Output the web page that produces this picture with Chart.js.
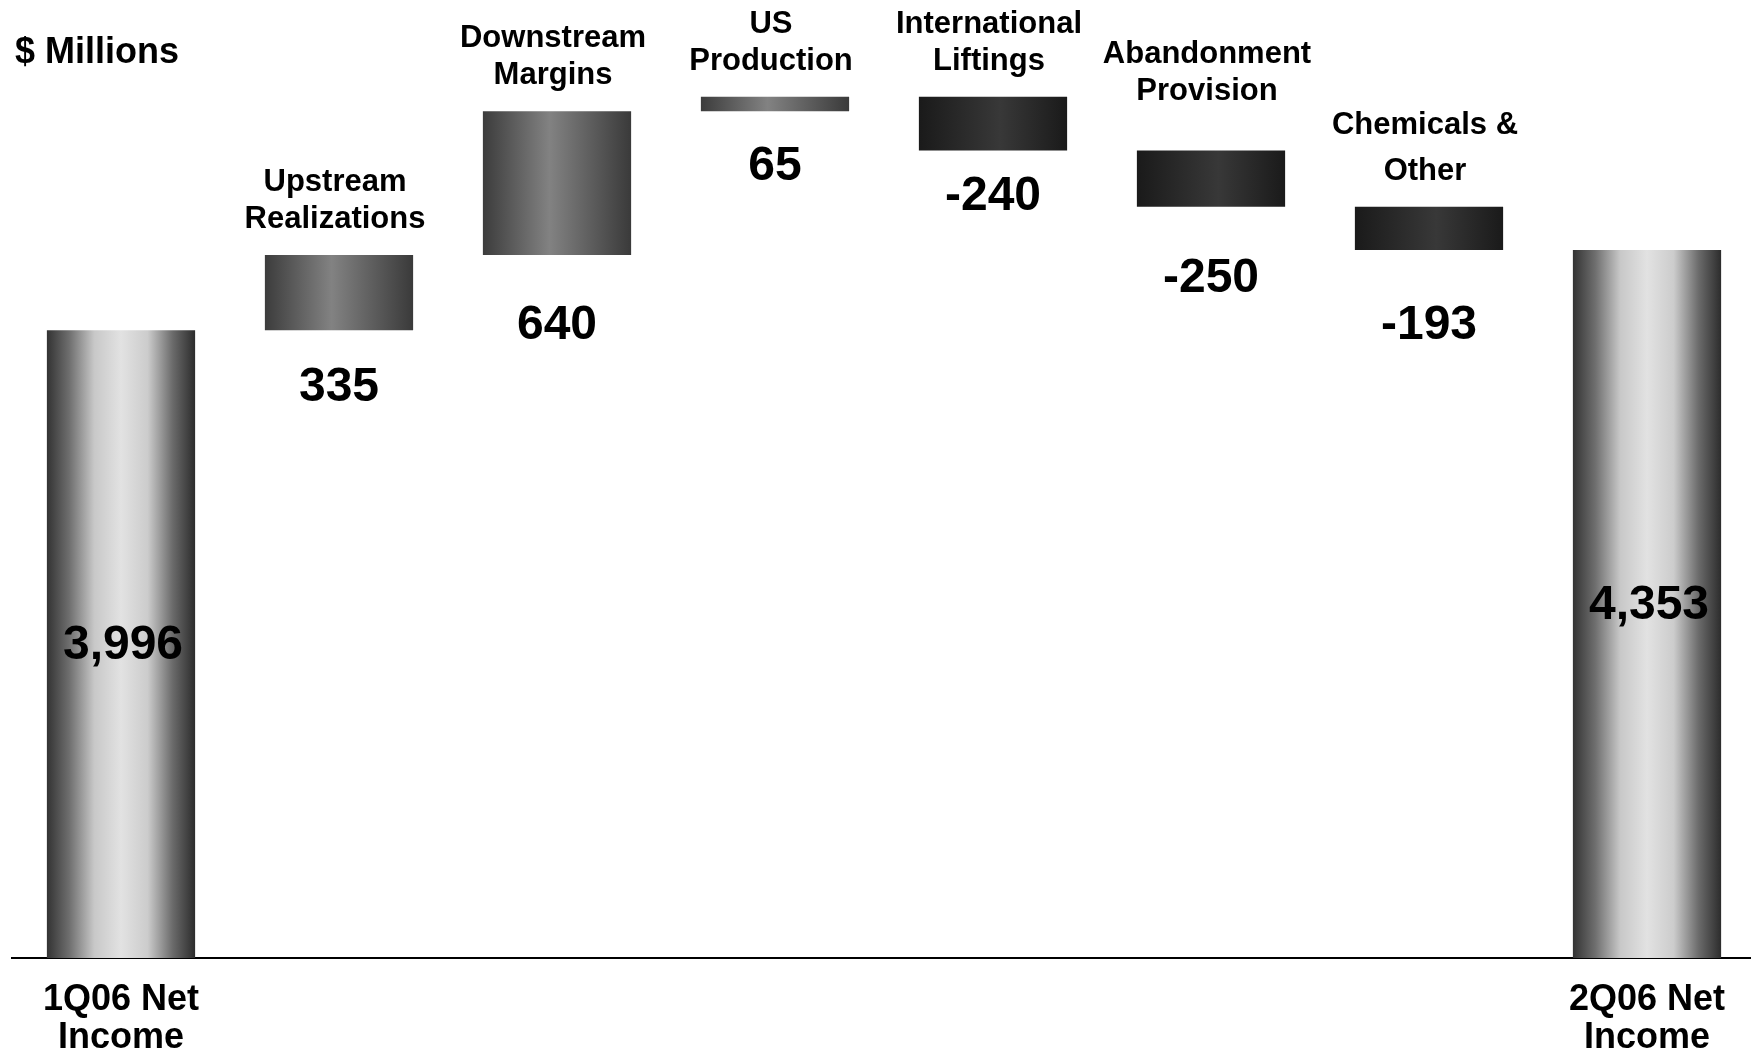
<!DOCTYPE html>
<html>

<head>
    <meta charset="UTF-8">
    <title>Net Income Bridge</title>
    <script src="https://cdn.jsdelivr.net/npm/chart.js"></script>
    <style>
        body {
            margin: 0;
            background-color: #ffffff;
        }

        /* the plot runs a few pixels past the right edge, as on the slide */
        #frame {
            width: 1751px;
            height: 1060px;
            overflow: hidden;
        }

        #chartBox {
            position: relative;
            width: 1756px;
            height: 1060px;
        }
    </style>
</head>

<body>
    <div id="frame">
        <div id="chartBox">
            <canvas id="bridgeChart"></canvas>
        </div>
    </div>

    <script>
        // Chart data
        var categories = [
            ['1Q06 Net', 'Income'],
            ['Upstream', 'Realizations'],
            ['Downstream', 'Margins'],
            ['US', 'Production'],
            ['International', 'Liftings'],
            ['Abandonment', 'Provision'],
            ['Chemicals &', 'Other'],
            ['2Q06 Net', 'Income']
        ];
        var startTotal = 3996;
        var changes = [335, 640, 65, -240, -250, -193];
        var endTotal = 4353;
        var unitLabel = '$ Millions';

        var FONT = "'Liberation Sans', Arial, Helvetica, sans-serif";

        // Build the bar values: totals stand on the axis, changes float
        var barValues = [startTotal];
        var running = startTotal;
        for (var i = 0; i < changes.length; i++) {
            barValues.push([running, running + changes[i]]);
            running += changes[i];
        }
        barValues.push(endTotal);

        function isTotal(index) {
            return index === 0 || index === categories.length - 1;
        }

        function valueText(index) {
            if (isTotal(index)) {
                var v = index === 0 ? startTotal : endTotal;
                return v.toLocaleString('en-US');
            }
            return String(changes[index - 1]);
        }

        // Horizontal "cylinder" shading for each bar
        function barShade(context) {
            var chart = context.chart;
            var area = chart.chartArea;
            var index = context.dataIndex;
            if (!area) {
                return '#808080';
            }
            var xScale = chart.scales.x;
            var center = xScale.getPixelForValue(index);
            var half = (area.width / categories.length) * 0.68 / 2;
            var g = chart.ctx.createLinearGradient(center - half, 0, center + half, 0);

            if (isTotal(index)) {
                g.addColorStop(0, '#333333');
                g.addColorStop(0.15, '#6e6e6e');
                g.addColorStop(0.32, '#c8c8c8');
                g.addColorStop(0.5, '#e2e2e2');
                g.addColorStop(0.68, '#cccccc');
                g.addColorStop(0.85, '#6a6a6a');
                g.addColorStop(1, '#2c2c2c');
            } else if (changes[index - 1] >= 0) {
                g.addColorStop(0, '#3c3c3c');
                g.addColorStop(0.45, '#828282');
                g.addColorStop(1, '#3a3a3a');
            } else {
                g.addColorStop(0, '#1a1a1a');
                g.addColorStop(0.55, '#383838');
                g.addColorStop(1, '#1a1a1a');
            }
            return g;
        }

        // Draws category names above the change bars and the values
        var barTextPlugin = {
            id: 'barText',
            afterDatasetsDraw: function (chart, args, opts) {
                var ctx = chart.ctx;
                var bars = chart.getDatasetMeta(0).data;
                var floor = chart.chartArea.bottom;
                var nudge = opts.nudge || {};
                ctx.save();
                ctx.fillStyle = '#000000';
                ctx.textAlign = 'center';

                for (var i = 0; i < bars.length; i++) {
                    var bar = bars[i];
                    var top = Math.min(bar.y, bar.base);
                    var bottom = Math.min(Math.max(bar.y, bar.base), floor);
                    var n = nudge[i] || {};

                    ctx.font = 'bold 48px ' + FONT;
                    if (isTotal(i)) {
                        ctx.textBaseline = 'middle';
                        ctx.fillText(valueText(i), bar.x + 2, (top + bottom) / 2 + 2);
                        continue;
                    }

                    ctx.textBaseline = 'alphabetic';
                    ctx.fillText(valueText(i), bar.x, bottom + 74 + (n.value || 0));

                    // category name, last line sits just above the bar
                    var lines = categories[i];
                    var gap = n.gap || 37;
                    ctx.font = 'bold 31px ' + FONT;
                    for (var k = 0; k < lines.length; k++) {
                        var lineY = top - 27 - (n.lift || 0) - (lines.length - 1 - k) * gap;
                        ctx.fillText(lines[k], bar.x - 4, lineY);
                    }
                }

                // units note in the top-left corner
                ctx.textAlign = 'left';
                ctx.textBaseline = 'alphabetic';
                ctx.font = 'bold 36px ' + FONT;
                ctx.fillText(unitLabel, 15, 63);
                ctx.restore();
            }
        };

        var bridgeCtx = document.getElementById('bridgeChart').getContext('2d');
        var bridgeChart = new Chart(bridgeCtx, {
            type: 'bar',
            data: {
                labels: categories,
                datasets: [{
                    data: barValues,
                    backgroundColor: barShade,
                    borderWidth: 0,
                    barPercentage: 0.68,
                    categoryPercentage: 1
                }]
            },
            options: {
                responsive: true,
                maintainAspectRatio: false,
                animation: false,
                layout: {
                    padding: { top: 15, left: 12, right: 0, bottom: 3 }
                },
                plugins: {
                    legend: { display: false },
                    tooltip: { enabled: false },
                    barText: {
                        // hand placement of a few labels, as on the slide
                        nudge: {
                            1: { value: -3 },
                            2: { value: 10 },
                            3: { value: -5 },
                            4: { value: -15 },
                            5: { value: 11, lift: 24 },
                            6: { value: 15, gap: 46 }
                        }
                    }
                },
                scales: {
                    x: {
                        grid: { display: false, drawTicks: false },
                        border: { display: true, color: '#000000', width: 2 },
                        afterFit: function (axis) {
                            axis.height = 99; // room for the two-line labels
                        },
                        ticks: {
                            color: '#000000',
                            padding: 23,
                            maxRotation: 0,
                            autoSkip: false,
                            font: { family: FONT, size: 36, weight: 'bold', lineHeight: 1.05 },
                            callback: function (value, index) {
                                return isTotal(index) ? categories[index] : '';
                            }
                        }
                    },
                    y: {
                        display: false,
                        min: 1200,
                        max: 5400
                    }
                }
            },
            plugins: [barTextPlugin]
        });
    </script>
</body>

</html>
